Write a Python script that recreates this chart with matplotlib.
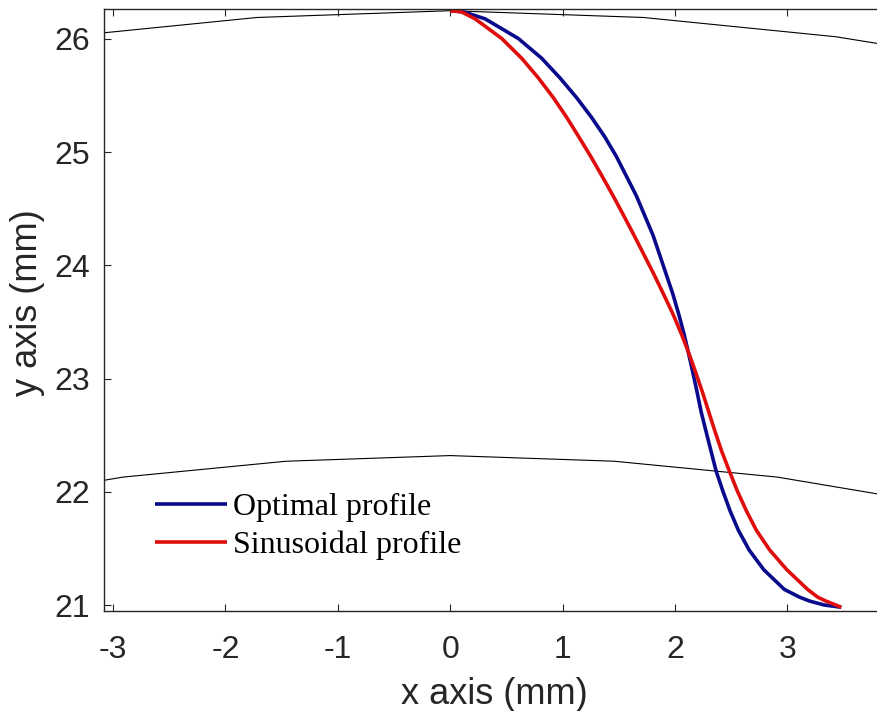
import numpy as np
import matplotlib.pyplot as plt

# outer / inner circle outlines (polygon vertices, mm)
outer_x = [-5.12, -3.43, -1.72, 0.0, 1.72, 3.43, 5.12]
outer_y = [25.75, 26.02, 26.19, 26.25, 26.19, 26.02, 25.75]
inner_x = [-4.35, -2.91, -1.46, 0.0, 1.46, 2.91, 4.35]
inner_y = [21.89, 22.13, 22.27, 22.32, 22.27, 22.13, 21.89]

# tooth profiles
prof_y = [26.25, 26.24, 26.178, 26.004, 25.83, 25.657, 25.483, 25.309, 25.135,
          24.962, 24.788, 24.614, 24.44, 24.266, 24.093, 23.919, 23.745, 23.571,
          23.397, 23.224, 23.05, 22.876, 22.702, 22.528, 22.355, 22.181, 22.007,
          21.833, 21.659, 21.486, 21.312, 21.138, 21.07, 21.034, 21.0, 20.98]
opt_x = [0.0, 0.118, 0.311, 0.607, 0.814, 0.976, 1.124, 1.257, 1.376, 1.479,
         1.568, 1.657, 1.731, 1.805, 1.864, 1.923, 1.982, 2.033, 2.080, 2.121,
         2.160, 2.198, 2.234, 2.278, 2.322, 2.367, 2.426, 2.490, 2.565, 2.660,
         2.790, 2.973, 3.107, 3.200, 3.328, 3.48]
sin_x = [0.0, 0.10, 0.222, 0.459, 0.636, 0.784, 0.917, 1.036, 1.145, 1.251,
         1.352, 1.450, 1.544, 1.636, 1.725, 1.814, 1.899, 1.982, 2.056, 2.124,
         2.186, 2.246, 2.302, 2.358, 2.417, 2.485, 2.555, 2.635, 2.725, 2.843,
         2.995, 3.180, 3.269, 3.345, 3.43, 3.48]

xticks = [-3, -2, -1, 0, 1, 2, 3]
yticks = [21, 22, 23, 24, 25, 26]

plt.rcParams['font.family'] = ['Liberation Sans', 'DejaVu Sans']
plt.rcParams['axes.unicode_minus'] = False
gray = '#262626'

fig = plt.figure(figsize=(8.78, 7.11), dpi=100)
ax = fig.add_axes([104/878, 100/711, 780/878, 602/711])

ax.plot(outer_x, outer_y, color='k', lw=0.8)
ax.plot(inner_x, inner_y, color='k', lw=0.8)
l1, = ax.plot(opt_x, prof_y, color='#0a0a8c', lw=2.6, solid_capstyle='butt',
              solid_joinstyle='round')
l2, = ax.plot(sin_x, prof_y, color='#e00d0d', lw=2.6, solid_capstyle='butt',
              solid_joinstyle='round')

ax.set_xlim(-3.08, 3.86)
ax.set_ylim(20.947, 26.265)
ax.set_xticks(xticks)
ax.set_yticks(yticks)
ax.tick_params(direction='in', top=True, right=True, length=5, width=0.8,
               colors=gray, labelsize=23)
ax.tick_params(axis='x', pad=17)
ax.tick_params(axis='y', pad=10)
for s in ax.spines.values():
    s.set_color(gray)
    s.set_linewidth(1.0)

ax.set_xlabel('x axis (mm)', fontsize=26, color=gray, labelpad=9)
ax.set_ylabel('y axis (mm)', fontsize=26, color=gray, labelpad=3)
ax.yaxis.set_label_coords(-0.075, 0.512)

ax.legend([l1, l2], ['Optimal profile', 'Sinusoidal profile'],
          loc='upper left', bbox_to_anchor=(0.0654, 0.196), frameon=False,
          prop={'family': 'Liberation Serif', 'size': 23},
          handlelength=2.25, handletextpad=0.2, labelspacing=0.25,
          borderpad=0, borderaxespad=0)

fig.savefig('out.png', dpi=100)
